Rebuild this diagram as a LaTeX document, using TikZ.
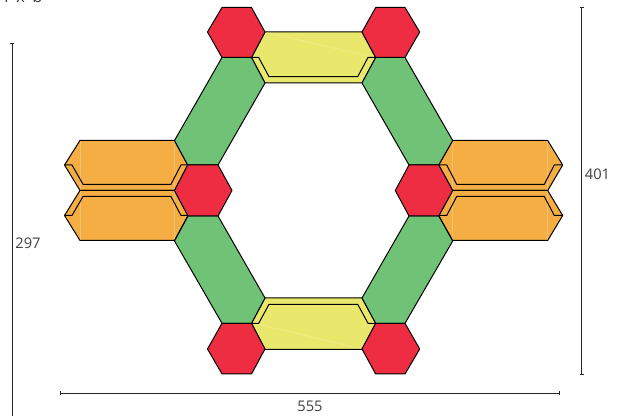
\documentclass[tikz,border=0pt]{standalone}
\usepackage{fontspec}
\setmainfont{Open Sans}
\definecolor{hexred}{HTML}{EE2D42}
\definecolor{bargreen}{HTML}{70C376}
\definecolor{baryellow}{HTML}{EAE86C}
\definecolor{barorange}{HTML}{F4AE44}
\definecolor{txt}{HTML}{404040}
\tikzset{
  x=0.75pt,y=-0.75pt,
  outline/.style={draw=black,line width=0.75pt,line join=round},
  redhex/.style={outline,fill=hexred},
  greenbar/.style={outline,fill=bargreen},
  yellowbar/.style={outline,fill=baryellow},
  orangebar/.style={outline,fill=barorange},
  innerline/.style={draw=black,line width=0.75pt,line join=round},
  sheen/.style={draw=white,opacity=0.22,line width=0.5pt},
  dimline/.style={draw=black!85,line width=0.7pt},
  dimtext/.style={font=\fontsize{11pt}{13pt}\selectfont,text=txt,inner sep=0pt}
}
\begin{document}
\begin{tikzpicture}
\useasboundingbox (0,0) rectangle (625,416);
\clip (0,0) rectangle (625,416);
% yellow bars
\draw[yellowbar] (265,32)--(362,32)--(375.7,57.5)--(362,83)--(265,83)--(251.5,57.5)--cycle;
\draw[sheen] (265,32)--(372,57);
\draw[innerline] (251.5,57.5)--(258.7,57.5)--(269,76.7)--(357.7,76.7)--(368,57.5)--(375.7,57.5);
\draw[yellowbar] (265,298)--(362,298)--(375.7,323.3)--(362,349.5)--(265,349.5)--(251.5,323.3)--cycle;
\draw[sheen] (255,323.5)--(362,349);
\draw[innerline] (251.5,323.3)--(258.7,323.3)--(269,304.3)--(357.7,304.3)--(368,323.3)--(375.7,323.3);
% orange bars
\draw[orangebar] (64.5,165)--(80,140.5)--(174.5,140.5)--(187.7,165)--(174.5,190.5)--(80,190.5)--cycle;
\draw[sheen] (80,141)--(80,190) (174.5,141)--(174.5,190);
\draw[innerline] (64.5,165)--(72,165)--(83,184.3)--(171,184.3)--(181,165)--(187.7,165);
\draw[orangebar] (64.5,215.5)--(80,190.5)--(174.5,190.5)--(188,215.5)--(174.5,240.5)--(80,240.5)--cycle;
\draw[sheen] (80,191)--(80,240) (174.5,191)--(174.5,240);
\draw[innerline] (64.5,215.5)--(72,215.5)--(83,196.5)--(171,196.5)--(181,215.5)--(188,215.5);
\draw[orangebar] (438.7,165)--(452.7,140.5)--(547.7,140.5)--(562.7,165)--(547.7,190.5)--(452.7,190.5)--cycle;
\draw[sheen] (452.7,141)--(452.7,190) (547.7,141)--(547.7,190);
\draw[innerline] (438.7,165)--(446.7,165)--(456.7,184.3)--(544.3,184.3)--(554.3,165)--(562.7,165);
\draw[orangebar] (438.7,215.5)--(452.7,190.5)--(547.7,190.5)--(562.7,215.5)--(547.7,240.5)--(452.7,240.5)--cycle;
\draw[sheen] (452.7,191)--(452.7,240) (547.7,191)--(547.7,240);
\draw[innerline] (438.7,215.5)--(446.7,215.5)--(456.7,196.5)--(544.3,196.5)--(554.3,215.5)--(562.7,215.5);
% green bars
\draw[greenbar] (222,57.5)--(251.5,57.5)--(265,83)--(218,165)--(187.7,165)--(174.5,140.5)--cycle;
\draw[greenbar] (375.7,57.5)--(405,57.5)--(452.7,140.5)--(438.7,165)--(409,165)--(362,83)--cycle;
\draw[greenbar] (188,216)--(218,216)--(265,298)--(251.5,323.3)--(222,323.3)--(174.5,241)--cycle;
\draw[greenbar] (409,216)--(438.7,216)--(452.7,241)--(405,323.3)--(375.7,323.3)--(362,298)--cycle;
% red hexagons
\draw[redhex] (207.5,32)--(222,7.5)--(251.5,7.5)--(265,32)--(251.5,57.5)--(222,57.5)--cycle;
\draw[redhex] (362,32)--(375.7,7.5)--(405,7.5)--(419.7,32)--(405,57.5)--(375.7,57.5)--cycle;
\draw[redhex] (174.5,190.5)--(187.7,165)--(218,165)--(232,190.5)--(218,216)--(188,216)--cycle;
\draw[redhex] (395.3,190.5)--(409,165)--(438.7,165)--(452.7,190.5)--(438.7,216)--(409,216)--cycle;
\draw[redhex] (207.5,349)--(222,323.3)--(251.5,323.3)--(265,349)--(251.5,374)--(222,374)--cycle;
\draw[redhex] (362,349)--(375.7,323.3)--(405,323.3)--(419.7,349)--(405,374)--(375.7,374)--cycle;
% dimensions
\coordinate (la) at (12,43.5); \coordinate (lb) at (12,420);
\coordinate (ra) at (581.5,7); \coordinate (rb) at (581.5,374.5);
\coordinate (ba) at (60.5,393.5); \coordinate (bb) at (559.5,393.5);
\draw[dimline] (la)--(lb) (10,43.5)--(14,43.5);
\draw[dimline] (ra)--(rb) (579.5,7)--(583.5,7) (579.5,374.5)--(583.5,374.5);
\draw[dimline] (ba)--(bb) (60.5,391.5)--(60.5,395.5) (559.5,391.5)--(559.5,395.5);
\node[dimtext] (t555) at (310,406) {555};
\node[dimtext] (t401) at (597.5,174.5) {401};
\node[dimtext] (t297) at (28,243.5) {297};
\node[dimtext,font=\fontsize{12.5pt}{14pt}\selectfont,anchor=base] (tlb) at (23.5,3) {l\hspace{0.45em}x\hspace{0.45em}b};
\end{tikzpicture}
\end{document}
